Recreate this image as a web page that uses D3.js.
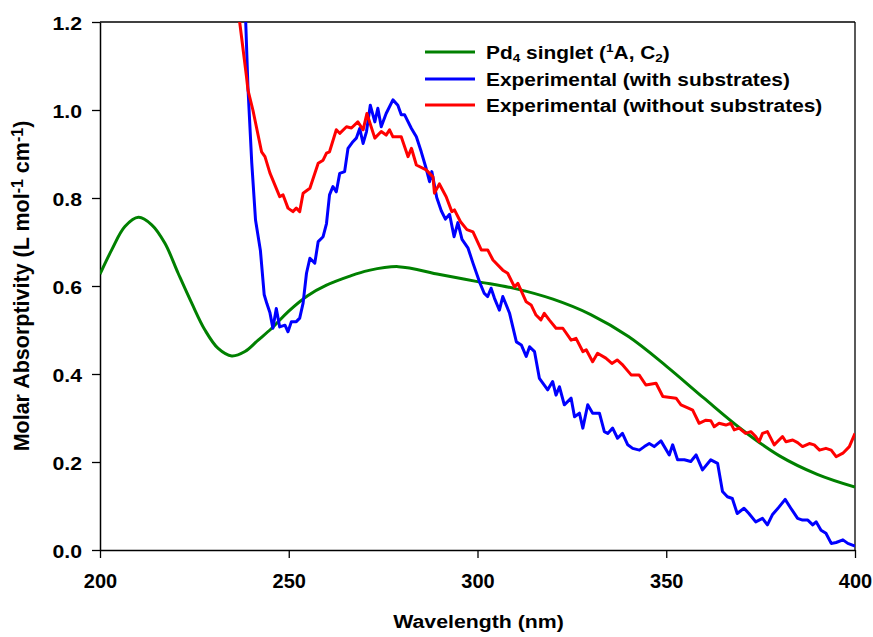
<!DOCTYPE html>
<html>
<head>
<meta charset="utf-8">
<script src="https://cdn.jsdelivr.net/npm/d3@7"></script>
<style>
  html, body { margin: 0; padding: 0; background: #fff; }
  svg { display: block; }
  text { font-family: "Liberation Sans", Arial, sans-serif; font-weight: bold; fill: #000; }
</style>
</head>
<body>
<svg id="chart" width="873" height="637"></svg>
<script>
// ---------- data ----------
const xTicks = [200, 250, 300, 350, 400];
const yTicks = [0, 0.2, 0.4, 0.6, 0.8, 1.0, 1.2];

const seriesNames = ["Pd4 singlet (1A, C2)", "Experimental (with substrates)", "Experimental (without substrates)"];
const seriesColors = ["#008000", "#0000ff", "#ff0000"];

// Pd4 singlet (theory)
const theoryNm = [200,203.1,206.6,210.2,213.7,217.2,220.7,224.3,227.8,231.3,234.9,238.4,241.9,245.5,250,255,260,266,271,279,290,300,310,320,330,340,350,360,370,380,390,400];
const theoryAbs = [0.627,0.682,0.735,0.756,0.739,0.697,0.629,0.561,0.500,0.458,0.441,0.451,0.477,0.504,0.543,0.578,0.602,0.622,0.635,0.644,0.626,0.610,0.594,0.570,0.535,0.485,0.418,0.345,0.274,0.214,0.172,0.143];

// Experimental (with substrates)
const withNm = [237.5,238.6,239.2,240.2,241.2,242.5,243.5,244.2,245,245.8,246.7,247.6,249,249.8,250.7,252,252.9,253.8,254.7,255.6,256.9,257.8,259.1,260,260.8,261.7,262.6,263.5,264.8,265.7,267,267.9,268.8,269.7,270.6,271.6,272.8,273.6,274.5,275.8,277.6,278.9,279.8,280.7,282.5,283.8,285.1,286.4,287.3,287.9,289.2,290.4,291.5,292.6,293.8,294.8,295.9,297.5,298.8,300.5,301.8,302.7,303.6,304.5,305.8,306.7,308.5,310.3,311.6,312.9,313.8,315.1,316.4,318.6,319.9,320.8,321.7,323,324.8,325.7,327,327.9,329.2,330.5,332.3,333.6,334.5,335.8,337.1,338.4,339.8,341.1,342.9,344.2,345.5,346.8,348.6,350.8,351.7,353,354.8,356.5,357.9,359.6,361.8,363.6,364.9,366.2,367.5,368.8,370.6,371.9,373.7,375.5,376.8,378.1,379.9,381.5,383,384.8,386.1,387.5,388.8,389.7,391,392.3,393.7,395,396.8,398.1,400];
const withAbs = [1.35,1.2,1.05,0.88,0.75,0.68,0.58,0.56,0.54,0.504,0.549,0.507,0.511,0.496,0.519,0.519,0.527,0.561,0.629,0.663,0.652,0.701,0.712,0.742,0.807,0.826,0.814,0.856,0.86,0.913,0.928,0.936,0.958,0.924,0.951,1.011,0.973,1.004,0.962,0.992,1.023,1.011,0.989,0.989,0.958,0.939,0.905,0.867,0.837,0.86,0.801,0.771,0.752,0.763,0.712,0.744,0.706,0.686,0.652,0.61,0.583,0.576,0.595,0.572,0.545,0.576,0.538,0.473,0.466,0.44,0.462,0.451,0.39,0.364,0.383,0.352,0.371,0.33,0.345,0.303,0.311,0.277,0.33,0.311,0.311,0.269,0.265,0.277,0.254,0.265,0.239,0.231,0.227,0.235,0.242,0.235,0.248,0.216,0.239,0.205,0.205,0.201,0.216,0.182,0.205,0.197,0.133,0.121,0.117,0.083,0.095,0.083,0.064,0.072,0.057,0.08,0.098,0.115,0.095,0.072,0.068,0.068,0.057,0.064,0.045,0.038,0.015,0.017,0.023,0.015,0.009];

// Experimental (without substrates)
const withoutNm = [236.5,237,238.8,239.2,240.5,242.8,243.7,245,247.6,248.5,249.8,251.1,252,252.9,253.8,255.6,257.8,259.1,260,260.8,262.6,263.5,265.3,266.6,268.3,269.7,270.7,272.8,274.5,275.8,276.7,277.6,279.8,281.6,282.5,283.8,286.4,288.2,288.6,289.9,291.7,293.2,293.9,295.5,297.2,298.8,301,302.7,304.1,306.7,308,309.8,310.7,312.9,314.2,315.5,316.8,317.7,319,320.8,322.6,324.8,326.1,327.9,328.8,330.5,331.8,334,335.6,337,338.3,340.7,342.8,344.6,347.3,349.1,352.6,353.9,356,357,358.7,360.5,361.8,362.7,364,365.8,367.1,368,369.3,371,372.4,373.7,374.6,375.5,376.8,378.6,380.8,381.7,383.5,384.8,386.1,387.9,389.2,390.6,392.3,393.7,395,396.8,398.5,400];
const withoutAbs = [1.3,1.2,1.076,1.045,1.0,0.905,0.894,0.857,0.803,0.807,0.777,0.769,0.777,0.769,0.811,0.822,0.879,0.886,0.902,0.905,0.955,0.947,0.962,0.959,0.973,0.955,0.992,0.936,0.951,0.943,0.955,0.939,0.939,0.894,0.913,0.875,0.864,0.848,0.811,0.832,0.803,0.769,0.773,0.746,0.728,0.723,0.682,0.682,0.659,0.636,0.629,0.598,0.606,0.564,0.557,0.534,0.523,0.538,0.523,0.504,0.504,0.477,0.481,0.451,0.455,0.428,0.447,0.436,0.424,0.432,0.422,0.398,0.398,0.375,0.379,0.349,0.345,0.33,0.322,0.318,0.288,0.295,0.294,0.28,0.288,0.284,0.288,0.273,0.277,0.265,0.269,0.258,0.246,0.265,0.269,0.239,0.258,0.246,0.25,0.244,0.235,0.242,0.239,0.227,0.231,0.227,0.212,0.22,0.235,0.265];

// ---------- layout ----------
const W = 873, H = 637;
const margin = { left: 100, top: 22, right: 18, bottom: 87 };
const iw = W - margin.left - margin.right;
const ih = H - margin.top - margin.bottom;

const svg = d3.select("#chart");
const x = d3.scaleLinear().domain([200, 400]).range([margin.left, margin.left + iw]);
const y = d3.scaleLinear().domain([0, 1.2]).range([margin.top + ih, margin.top]);

svg.append("defs").append("clipPath").attr("id", "plotclip")
  .append("rect").attr("x", margin.left).attr("y", margin.top).attr("width", iw).attr("height", ih);

// frame (top & right)
svg.append("line").attr("x1", x(200)).attr("x2", x(400)).attr("y1", y(1.2)).attr("y2", y(1.2))
  .attr("stroke", "#000").attr("stroke-width", 1.3);
svg.append("line").attr("x1", x(400)).attr("x2", x(400)).attr("y1", y(1.2)).attr("y2", y(0))
  .attr("stroke", "#000").attr("stroke-width", 1.3);

// axes
const xAxis = svg.append("g").attr("transform", `translate(0,${y(0)})`)
  .call(d3.axisBottom(x).tickValues(xTicks).tickFormat(d3.format("d")).tickSize(8).tickSizeOuter(0));
xAxis.select(".domain").attr("stroke-width", 1.5);
xAxis.selectAll(".tick line").attr("stroke-width", 1.3);
xAxis.selectAll(".tick text").attr("y", 38).attr("dy", 0)
  .style("font-size", "20px").style("font-family", '"Liberation Sans", Arial, sans-serif').style("font-weight", "bold");

const yAxis = svg.append("g").attr("transform", `translate(${x(200)},0)`)
  .call(d3.axisLeft(y).tickValues(yTicks).tickFormat(d3.format(".1f")).tickSize(8).tickSizeOuter(0));
yAxis.select(".domain").attr("stroke-width", 1.5);
yAxis.selectAll(".tick line").attr("stroke-width", 1.3);
yAxis.selectAll(".tick text").attr("x", 0).attr("dy", "0.43em")
  .attr("transform", "translate(-18,0) scale(1.2,1)")
  .style("font-size", "17.7px").style("font-family", '"Liberation Sans", Arial, sans-serif').style("font-weight", "bold");

// axis titles
svg.append("text")
  .attr("transform", `translate(${(x(200) + x(400)) / 2 + 1},628) scale(1.12,1)`)
  .attr("text-anchor", "middle").style("font-size", "19px")
  .text("Wavelength (nm)");

const yt = svg.append("text")
  .attr("transform", `translate(29,286) rotate(-90)`)
  .attr("text-anchor", "middle").style("font-size", "21.5px");
yt.append("tspan").text("Molar Absorptivity (L mol");
yt.append("tspan").attr("baseline-shift", "6px").style("font-size", "16px").text("-1");
yt.append("tspan").text(" cm");
yt.append("tspan").attr("baseline-shift", "6px").style("font-size", "16px").text("-1");
yt.append("tspan").text(")");

// data lines
const series = [
  { nm: theoryNm, v: theoryAbs, color: seriesColors[0], curve: d3.curveCatmullRom.alpha(0.5) },
  { nm: withNm, v: withAbs, color: seriesColors[1], curve: d3.curveLinear },
  { nm: withoutNm, v: withoutAbs, color: seriesColors[2], curve: d3.curveLinear }
];
const plot = svg.append("g").attr("clip-path", "url(#plotclip)");
series.forEach(s => {
  const pts = s.nm.map((d, i) => [d, s.v[i]]);
  plot.append("path")
    .attr("d", d3.line().x(d => x(d[0])).y(d => y(d[1])).curve(s.curve)(pts))
    .attr("fill", "none").attr("stroke", s.color).attr("stroke-width", 3)
    .attr("stroke-linejoin", "round");
});

// legend
const legendRows = [52, 79, 105];
const lg = svg.append("g");
legendRows.forEach((ly, i) => {
  lg.append("line").attr("x1", 425).attr("x2", 475).attr("y1", ly).attr("y2", ly)
    .attr("stroke", seriesColors[i]).attr("stroke-width", 3);
  const t = lg.append("text")
    .attr("transform", `translate(486,${ly + 6.8}) scale(1.18,1)`)
    .style("font-size", "17.7px");
  if (i === 0) {
    t.append("tspan").text("Pd");
    t.append("tspan").attr("baseline-shift", "-4px").style("font-size", "11.5px").text("4");
    t.append("tspan").text(" singlet (");
    t.append("tspan").attr("baseline-shift", "6px").style("font-size", "11.5px").text("1");
    t.append("tspan").text("A, C");
    t.append("tspan").attr("baseline-shift", "-4px").style("font-size", "11.5px").text("2");
    t.append("tspan").text(")");
  } else {
    t.text(seriesNames[i]);
  }
});
</script>
</body>
</html>
